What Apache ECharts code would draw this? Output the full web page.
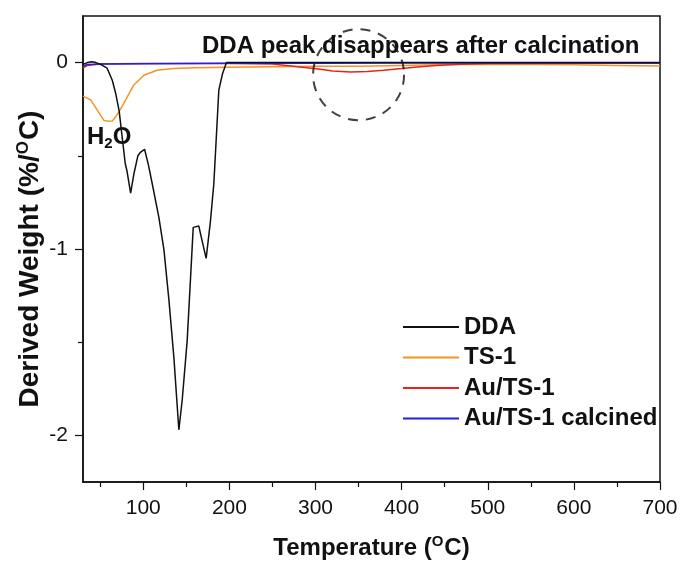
<!DOCTYPE html>
<html>
<head>
<meta charset="utf-8">
<script src="https://cdn.jsdelivr.net/npm/echarts@6/dist/echarts.min.js"></script>
<style>
  html, body { margin: 0; padding: 0; background: #fff; }
  #chart { width: 681px; height: 570px; }
</style>
</head>
<body>
<div id="chart"></div>
<script>
// DTG curves (temperature in °C, derived weight in %/°C)
const ddaT = [30, 35, 40, 45, 50.5, 58, 64, 68, 72, 76, 79, 81, 85.3, 89, 93.7, 97, 101.5, 106, 110.4, 118.1, 124, 129.7, 135.5, 141.3, 145.2, 151, 158, 164.5, 168, 173, 178, 181.9, 184, 187.7, 192, 196.6, 200, 300, 400, 500, 600, 700];
const ddaW = [-0.01, 0, 0.005, 0, -0.01, -0.03, -0.095, -0.166, -0.26, -0.42, -0.54, -0.58, -0.70, -0.60, -0.50, -0.48, -0.465, -0.55, -0.65, -0.83, -1.005, -1.27, -1.58, -1.97, -1.81, -1.49, -0.884, -0.877, -0.95, -1.05, -0.85, -0.65, -0.47, -0.148, -0.06, 0, 0, 0, 0, 0, 0, 0];

const ts1T = [30, 38.9, 46.6, 54.3, 60, 64, 68, 71.7, 79.5, 89, 100.7, 116, 135.5, 160, 200, 250, 300, 350, 400, 450, 500, 550, 600, 650, 700];
const ts1W = [-0.18, -0.20, -0.255, -0.31, -0.315, -0.313, -0.29, -0.265, -0.20, -0.12, -0.068, -0.041, -0.032, -0.028, -0.025, -0.022, -0.02, -0.02, -0.015, -0.01, -0.01, -0.01, -0.012, -0.015, -0.018];

const auT = [30, 35, 50, 100, 150, 200, 250, 282, 305.6, 320, 340.5, 360, 379, 400, 418, 440, 468, 500, 600, 700];
const auW = [-0.03, -0.015, -0.008, -0.005, -0.005, -0.005, -0.008, -0.024, -0.036, -0.045, -0.05, -0.048, -0.041, -0.032, -0.024, -0.015, -0.009, -0.005, -0.004, -0.004];

const calT = [30, 35, 50, 100, 200, 300, 400, 500, 600, 700];
const calW = [-0.02, -0.01, -0.008, -0.006, -0.004, -0.003, -0.002, -0.002, -0.002, -0.002];

// axis ticks
const xMajor = [100, 200, 300, 400, 500, 600, 700];
const xMinor = [50, 150, 250, 350, 450, 550, 650];
const yMajor = [-2, -1, 0];
const yMinor = [-1.5, -0.5];

// dashed circle marking the vanished DDA peak
const circleCenter = [350, -0.065];

const zip = (xs, ys) => xs.map((x, i) => [x, ys[i]]);

const FONT = "Liberation Sans, Arial, sans-serif";

const line = (name, xs, ys, color) => ({
  name,
  type: "line",
  data: zip(xs, ys),
  symbol: "none",
  smooth: false,
  lineStyle: { color, width: 1.5 },
  itemStyle: { color },
  z: 3,
});

const baseX = {
  type: "value",
  min: 30,
  max: 700,
  splitLine: { show: false },
};
const baseY = {
  type: "value",
  min: -2.25,
  max: 0.25,
  splitLine: { show: false },
};

const supStyle = { fontSize: 16, fontWeight: "bold", verticalAlign: "top", lineHeight: 30, padding: [0, 1, 9, 0], fontFamily: FONT };

const chart = echarts.init(document.getElementById("chart"), null, { renderer: "canvas" });

const option = {
  animation: false,
  backgroundColor: "#fff",
  textStyle: { fontFamily: FONT },
  grid: {
    left: 83,
    right: 21,
    top: 16,
    bottom: 88,
    show: true,
    borderColor: "#111",
    borderWidth: 1.5,
  },
  xAxis: [
    {
      ...baseX,
      axisLine: { onZero: false, lineStyle: { color: "#111", width: 1.5 } },
      axisTick: { customValues: xMajor, length: 8, lineStyle: { color: "#111", width: 1.2 } },
      axisLabel: { customValues: xMajor, color: "#111", fontSize: 21, margin: 16, fontFamily: FONT },
      name: "Temperature ({sup|O}C)",
      nameLocation: "middle",
      nameGap: 52,
      nameMoveOverlap: false,
      nameTextStyle: {
        color: "#111",
        fontSize: 24,
        fontWeight: "bold",
        fontFamily: FONT,
        lineHeight: 28,
        rich: { sup: { ...supStyle, fontSize: 15, lineHeight: 28, padding: [0, 1, 8, 0] } },
      },
    },
    {
      ...baseX,
      position: "bottom",
      axisLine: { show: false, onZero: false },
      axisTick: { customValues: xMinor, length: 5, lineStyle: { color: "#111", width: 1.2 } },
      axisLabel: { show: false },
    },
  ],
  yAxis: [
    {
      ...baseY,
      axisLine: { onZero: false, lineStyle: { color: "#111", width: 1.5 } },
      axisTick: { customValues: yMajor, length: 8, lineStyle: { color: "#111", width: 1.2 } },
      axisLabel: { customValues: yMajor, color: "#111", fontSize: 21, margin: 15, fontFamily: FONT },
      name: "Derived Weight (%/{sup|O}C)",
      nameLocation: "middle",
      nameGap: 38,
      nameMoveOverlap: false,
      nameTextStyle: {
        color: "#111",
        fontSize: 28,
        fontWeight: "bold",
        fontFamily: FONT,
        lineHeight: 30,
        padding: [0, 20, 0, 0],
        rich: { sup: { ...supStyle, fontSize: 17 } },
      },
    },
    {
      ...baseY,
      position: "left",
      axisLine: { show: false, onZero: false },
      axisTick: { customValues: yMinor, length: 5, lineStyle: { color: "#111", width: 1.2 } },
      axisLabel: { show: false },
    },
  ],
  legend: {
    data: ["DDA", "TS-1", "Au/TS-1", "Au/TS-1 calcined"],
    orient: "vertical",
    left: 403,
    top: 315,
    padding: 0,
    itemGap: 6.5,
    itemWidth: 56,
    itemHeight: 2,
    icon: "rect",
    textStyle: { color: "#111", fontSize: 24, fontWeight: "bold", lineHeight: 24, fontFamily: FONT },
  },
  graphic: [
    {
      type: "text",
      left: 202,
      top: 34,
      style: {
        text: "DDA peak disappears after calcination",
        fill: "#111",
        font: "bold 24px " + FONT,
      },
    },
    {
      type: "text",
      left: 87,
      top: 125,
      style: {
        text: "{a|H}{s|2}{a|O}",
        rich: {
          a: { fontSize: 24, fontWeight: "bold", fill: "#111", fontFamily: FONT, lineHeight: 28 },
          s: { fontSize: 15, fontWeight: "bold", fill: "#111", fontFamily: FONT, verticalAlign: "bottom", lineHeight: 28, padding: [6, 0, 0, 0] },
        },
      },
    },
  ],
  series: [
    line("TS-1", ts1T, ts1W, "#f39422"),
    line("Au/TS-1", auT, auW, "#e8231f"),
    line("Au/TS-1 calcined", calT, calW, "#1f1fe8"),
    line("DDA", ddaT, ddaW, "#111111"),
    {
      name: "circle",
      type: "scatter",
      data: [circleCenter],
      symbol: "circle",
      symbolSize: 91,
      itemStyle: {
        color: "rgba(0,0,0,0)",
        borderColor: "#111",
        borderWidth: 2,
        borderType: [10, 8],
      },
      silent: true,
      z: 4,
    },
  ],
};

chart.setOption(option);
</script>
</body>
</html>
